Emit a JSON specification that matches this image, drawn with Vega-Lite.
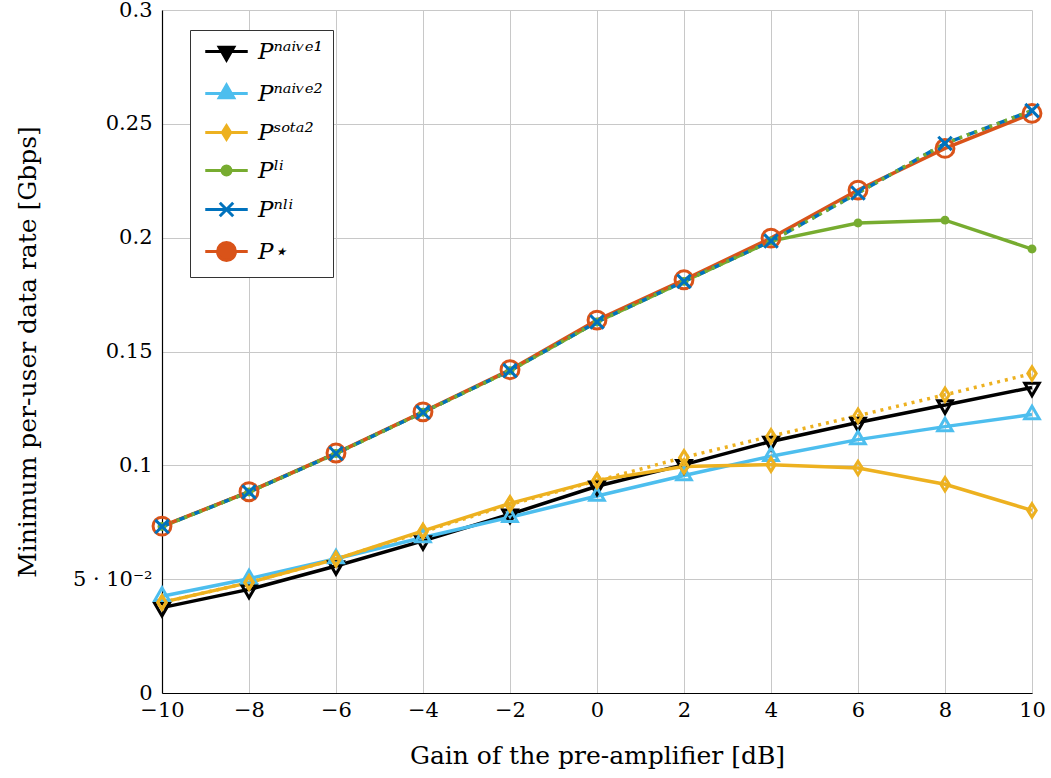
{
  "$schema": "https://vega.github.io/schema/vega-lite/v6.json",
  "width": 870,
  "height": 683,
  "autosize": {"type": "none"},
  "padding": {"left": 162, "top": 10, "right": 19, "bottom": 85},
  "background": "white",
  "config": {
    "view": {"stroke": null},
    "axis": {
      "labelFont": "DejaVu Serif", "labelFontSize": 21, "labelColor": "black",
      "titleFont": "DejaVu Serif", "titleFontSize": 25, "titleFontWeight": "normal", "titleColor": "black",
      "gridColor": "#c8c8c8", "gridWidth": 1, "domainColor": "black", "domainWidth": 1.2, "ticks": false
    },
    "legend": {
      "orient": "none", "legendX": 28, "legendY": 20,
      "symbolSize": 125, "symbolStrokeWidth": 3, "symbolOffset": 15, "labelOffset": 20,
      "labelFont": "DejaVu Serif", "labelFontSize": 23, "labelFontStyle": "italic", "labelColor": "black",
      "padding": 10, "rowPadding": 13, "strokeColor": "#333333", "fillColor": "white"
    }
  },
  "data": {"values": [
    {"x": -10, "y": 0.0375, "s": "naive1", "k": "main"},
    {"x": -8, "y": 0.0455, "s": "naive1", "k": "main"},
    {"x": -6, "y": 0.0558, "s": "naive1", "k": "main"},
    {"x": -4, "y": 0.0668, "s": "naive1", "k": "main"},
    {"x": -2, "y": 0.0785, "s": "naive1", "k": "main"},
    {"x": 0, "y": 0.0908, "s": "naive1", "k": "main"},
    {"x": 2, "y": 0.1003, "s": "naive1", "k": "main"},
    {"x": 4, "y": 0.1105, "s": "naive1", "k": "main"},
    {"x": 6, "y": 0.1188, "s": "naive1", "k": "main"},
    {"x": 8, "y": 0.1265, "s": "naive1", "k": "main"},
    {"x": 10, "y": 0.1342, "s": "naive1", "k": "main"},
    {"x": -10, "y": 0.0425, "s": "naive2", "k": "main"},
    {"x": -8, "y": 0.0502, "s": "naive2", "k": "main"},
    {"x": -6, "y": 0.0590, "s": "naive2", "k": "main"},
    {"x": -4, "y": 0.0683, "s": "naive2", "k": "main"},
    {"x": -2, "y": 0.0772, "s": "naive2", "k": "main"},
    {"x": 0, "y": 0.0865, "s": "naive2", "k": "main"},
    {"x": 2, "y": 0.0955, "s": "naive2", "k": "main"},
    {"x": 4, "y": 0.1040, "s": "naive2", "k": "main"},
    {"x": 6, "y": 0.1113, "s": "naive2", "k": "main"},
    {"x": 8, "y": 0.1170, "s": "naive2", "k": "main"},
    {"x": 10, "y": 0.1223, "s": "naive2", "k": "main"},
    {"x": -10, "y": 0.0398, "s": "sota2", "k": "main"},
    {"x": -8, "y": 0.0485, "s": "sota2", "k": "main"},
    {"x": -6, "y": 0.0588, "s": "sota2", "k": "main"},
    {"x": -4, "y": 0.0712, "s": "sota2", "k": "main"},
    {"x": -2, "y": 0.0833, "s": "sota2", "k": "main"},
    {"x": 0, "y": 0.0934, "s": "sota2", "k": "main"},
    {"x": 2, "y": 0.0995, "s": "sota2", "k": "main"},
    {"x": 4, "y": 0.1003, "s": "sota2", "k": "main"},
    {"x": 6, "y": 0.0988, "s": "sota2", "k": "main"},
    {"x": 8, "y": 0.0917, "s": "sota2", "k": "main"},
    {"x": 10, "y": 0.0802, "s": "sota2", "k": "main"},
    {"x": -10, "y": 0.0731, "s": "li", "k": "main"},
    {"x": -8, "y": 0.0883, "s": "li", "k": "main"},
    {"x": -6, "y": 0.1052, "s": "li", "k": "main"},
    {"x": -4, "y": 0.1233, "s": "li", "k": "main"},
    {"x": -2, "y": 0.1416, "s": "li", "k": "main"},
    {"x": 0, "y": 0.1630, "s": "li", "k": "main"},
    {"x": 2, "y": 0.1808, "s": "li", "k": "main"},
    {"x": 4, "y": 0.1985, "s": "li", "k": "main"},
    {"x": 6, "y": 0.2064, "s": "li", "k": "main"},
    {"x": 8, "y": 0.2077, "s": "li", "k": "main"},
    {"x": 10, "y": 0.1950, "s": "li", "k": "main"},
    {"x": -10, "y": 0.0733, "s": "star", "k": "main"},
    {"x": -8, "y": 0.0884, "s": "star", "k": "main"},
    {"x": -6, "y": 0.1054, "s": "star", "k": "main"},
    {"x": -4, "y": 0.1235, "s": "star", "k": "main"},
    {"x": -2, "y": 0.1420, "s": "star", "k": "main"},
    {"x": 0, "y": 0.1638, "s": "star", "k": "main"},
    {"x": 2, "y": 0.1815, "s": "star", "k": "main"},
    {"x": 4, "y": 0.1998, "s": "star", "k": "main"},
    {"x": 6, "y": 0.2209, "s": "star", "k": "main"},
    {"x": 8, "y": 0.2392, "s": "star", "k": "main"},
    {"x": 10, "y": 0.2546, "s": "star", "k": "main"},
    {"x": -10, "y": 0.0731, "s": "nli", "k": "main"},
    {"x": -8, "y": 0.0883, "s": "nli", "k": "main"},
    {"x": -6, "y": 0.1052, "s": "nli", "k": "main"},
    {"x": -4, "y": 0.1233, "s": "nli", "k": "main"},
    {"x": -2, "y": 0.1416, "s": "nli", "k": "main"},
    {"x": 0, "y": 0.1630, "s": "nli", "k": "main"},
    {"x": 2, "y": 0.1808, "s": "nli", "k": "main"},
    {"x": 4, "y": 0.1985, "s": "nli", "k": "main"},
    {"x": 6, "y": 0.2196, "s": "nli", "k": "main"},
    {"x": 8, "y": 0.2414, "s": "nli", "k": "main"},
    {"x": 10, "y": 0.2558, "s": "nli", "k": "main"},
    {"x": -10, "y": 0.0398, "s": "sota2", "k": "ideal"},
    {"x": -8, "y": 0.0485, "s": "sota2", "k": "ideal"},
    {"x": -6, "y": 0.0588, "s": "sota2", "k": "ideal"},
    {"x": -4, "y": 0.0708, "s": "sota2", "k": "ideal"},
    {"x": -2, "y": 0.0828, "s": "sota2", "k": "ideal"},
    {"x": 0, "y": 0.0932, "s": "sota2", "k": "ideal"},
    {"x": 2, "y": 0.1035, "s": "sota2", "k": "ideal"},
    {"x": 4, "y": 0.1128, "s": "sota2", "k": "ideal"},
    {"x": 6, "y": 0.1218, "s": "sota2", "k": "ideal"},
    {"x": 8, "y": 0.1310, "s": "sota2", "k": "ideal"},
    {"x": 10, "y": 0.1403, "s": "sota2", "k": "ideal"},
    {"x": -10, "y": 0.0731, "s": "li", "k": "ideal"},
    {"x": -8, "y": 0.0883, "s": "li", "k": "ideal"},
    {"x": -6, "y": 0.1052, "s": "li", "k": "ideal"},
    {"x": -4, "y": 0.1233, "s": "li", "k": "ideal"},
    {"x": -2, "y": 0.1416, "s": "li", "k": "ideal"},
    {"x": 0, "y": 0.1630, "s": "li", "k": "ideal"},
    {"x": 2, "y": 0.1808, "s": "li", "k": "ideal"},
    {"x": 4, "y": 0.1985, "s": "li", "k": "ideal"},
    {"x": 6, "y": 0.2196, "s": "li", "k": "ideal"},
    {"x": 8, "y": 0.2414, "s": "li", "k": "ideal"},
    {"x": 10, "y": 0.2558, "s": "li", "k": "ideal"}
  ]},
  "encoding": {
    "x": {"field": "x", "type": "quantitative",
      "scale": {"domain": [-10, 10], "nice": false, "zero": false},
      "axis": {"values": [-10, -8, -6, -4, -2, 0, 2, 4, 6, 8, 10], "title": "Gain of the pre-amplifier [dB]", "labelPadding": 6, "titlePadding": 23, "labelFlush": false}},
    "y": {"field": "y", "type": "quantitative",
      "scale": {"domain": [0, 0.3], "nice": false},
      "axis": {"values": [0, 0.05, 0.1, 0.15, 0.2, 0.25, 0.3], "title": "Minimum per-user data rate [Gbps]", "labelPadding": 10, "titlePadding": 32, "labelFlush": false,
        "labelExpr": "datum.value == 0.05 ? '5 · 10⁻²' : format(datum.value, '~g')"}},
    "color": {"field": "s", "type": "nominal",
      "scale": {"domain": ["naive1", "naive2", "sota2", "li", "nli", "star"], "range": ["#000000", "#4DBEEE", "#EDB120", "#77AC30", "#0072BD", "#D95319"]},
      "legend": {
        "title": null,
        "symbolType": {"expr": "datum.value == 'naive1' ? 'M-3.8,0L3.8,0M-1.3,-0.75L1.3,-0.75L0,1.5Z' : datum.value == 'naive2' ? 'M-3.8,0L3.8,0M-1.3,0.75L1.3,0.75L0,-1.5Z' : datum.value == 'sota2' ? 'M-3.8,0L3.8,0M0,-1.2L0.75,0L0,1.2L-0.75,0Z' : datum.value == 'li' ? 'M-3.8,0L3.8,0M0.8,0A0.8,0.8 0 1,1 -0.8,0A0.8,0.8 0 1,1 0.8,0Z' : datum.value == 'nli' ? 'M-3.8,0L3.8,0M-1.2,-1.2L1.2,1.2M-1.2,1.2L1.2,-1.2' : 'M-3.8,0L3.8,0M1.6,0A1.6,1.6 0 1,1 -1.6,0A1.6,1.6 0 1,1 1.6,0Z'"},
        "symbolFillColor": {"expr": "datum.value == 'li' ? '#77AC30' : 'transparent'"},
        "labelExpr": "datum.value == 'naive1' ? 'Pⁿᵃⁱᵛᵉ¹' : datum.value == 'naive2' ? 'Pⁿᵃⁱᵛᵉ²' : datum.value == 'sota2' ? 'Pˢᵒᵗᵃ²' : datum.value == 'li' ? 'Pˡⁱ' : datum.value == 'nli' ? 'Pⁿˡⁱ' : 'P⋆'"
      }}
  },
  "layer": [
    {"transform": [{"filter": "datum.k == 'main' && (datum.s == 'naive1' || datum.s == 'naive2' || datum.s == 'sota2' || datum.s == 'li')"}],
     "mark": {"type": "line", "strokeWidth": 3.5}},
    {"transform": [{"filter": "datum.k == 'main' && datum.s == 'star'"}],
     "mark": {"type": "line", "strokeWidth": 3.5}},
    {"transform": [{"filter": "datum.k == 'main' && datum.s == 'nli'"}],
     "mark": {"type": "line", "strokeWidth": 3.5, "strokeDash": [10, 6]}},
    {"transform": [{"filter": "datum.k == 'ideal'"}],
     "mark": {"type": "line", "strokeWidth": 3.5, "strokeDash": [3, 5]}},
    {"transform": [{"filter": "datum.s == 'naive1'"}],
     "mark": {"type": "point", "filled": false, "size": 125, "strokeWidth": 3, "opacity": 1, "shape": "M-1.3,-0.75L1.3,-0.75L0,1.5Z"}},
    {"transform": [{"filter": "datum.s == 'naive2'"}],
     "mark": {"type": "point", "filled": false, "size": 125, "strokeWidth": 3, "opacity": 1, "shape": "M-1.3,0.75L1.3,0.75L0,-1.5Z"}},
    {"transform": [{"filter": "datum.s == 'sota2'"}],
     "mark": {"type": "point", "filled": false, "size": 125, "strokeWidth": 3, "opacity": 1, "shape": "M0,-1.2L0.75,0L0,1.2L-0.75,0Z"}},
    {"transform": [{"filter": "datum.s == 'li' && datum.k == 'main'"}],
     "mark": {"type": "point", "filled": true, "size": 125, "strokeWidth": 3, "opacity": 1, "shape": "M0.8,0A0.8,0.8 0 1,1 -0.8,0A0.8,0.8 0 1,1 0.8,0Z"}},
    {"transform": [{"filter": "datum.s == 'star'"}],
     "mark": {"type": "point", "filled": false, "size": 125, "strokeWidth": 3, "opacity": 1, "shape": "M1.6,0A1.6,1.6 0 1,1 -1.6,0A1.6,1.6 0 1,1 1.6,0Z"}},
    {"transform": [{"filter": "datum.s == 'nli'"}],
     "mark": {"type": "point", "filled": false, "size": 125, "strokeWidth": 3, "opacity": 1, "shape": "M-1.2,-1.2L1.2,1.2M-1.2,1.2L1.2,-1.2"}}
  ]
}
